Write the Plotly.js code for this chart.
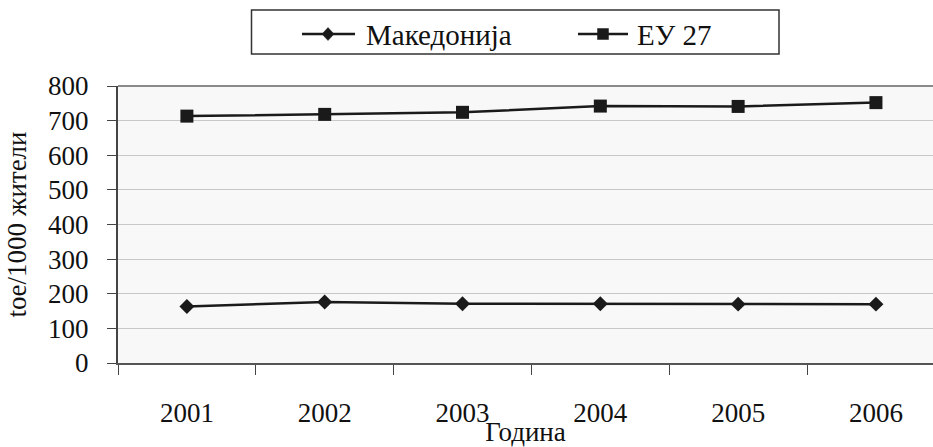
<!DOCTYPE html>
<html>
<head>
<meta charset="utf-8">
<script src="https://cdn.plot.ly/plotly-3.0.1.min.js"></script>
<style>body{margin:0}</style>
</head>
<body>
<div id="chart"></div>
<script>
var years = [2001, 2002, 2003, 2004, 2005, 2006];
var yearLabels = ['2001', '2002', '2003', '2004', '2005', '2006'];
var yearBoundaries = [2000.5, 2001.5, 2002.5, 2003.5, 2004.5, 2005.5];
var macedonia = [163, 176, 171, 171, 170, 170];
var eu27 = [713, 718, 724, 742, 741, 752];
var seriesNames = ['Македонија', 'ЕУ 27'];
var yTitle = 'toe/1000 жители';
var xTitle = 'Година';

var traces = [
  {
    x: years, y: macedonia, name: seriesNames[0], type: 'scatter', mode: 'lines+markers',
    line: {color: '#1a1a1a', width: 2.5},
    marker: {symbol: 'diamond', size: 11.5, color: '#1a1a1a'}
  },
  {
    x: years, y: eu27, name: seriesNames[1], type: 'scatter', mode: 'lines+markers',
    line: {color: '#1a1a1a', width: 2.5},
    marker: {symbol: 'square', size: 13, color: '#1a1a1a'}
  }
];

var L = 118, T = 86, B = 363, W = 933, H = 447;
var pw = W - L, ph = B - T;
function px2x(p){ return (p - L) / pw; }
function py2y(p){ return (B - p) / ph; }
function pt(x, y){ return px2x(x) + ',' + py2y(y); }

// legend drawn as annotations + decorative shapes (keeps serif font)
var legendRowY = 34;
var legendItems = [
  {lineX0: 302, lineX1: 355, markX: 328, textX: 364, symbol: 'diamond'},
  {lineX0: 578, lineX1: 628, markX: 603, textX: 635, symbol: 'square'}
];

var shapes = [
  {type: 'line', xref: 'paper', yref: 'paper', x0: 0, x1: 1, y0: 1, y1: 1,
   line: {color: '#8a8a8a', width: 2}},
  {type: 'rect', xref: 'paper', yref: 'paper',
   x0: px2x(251.5), x1: px2x(779), y0: py2y(54), y1: py2y(10),
   line: {color: '#333333', width: 1.5}, layer: 'above'}
];
var annotations = [];
legendItems.forEach(function(it, i){
  shapes.push({type: 'line', xref: 'paper', yref: 'paper',
    x0: px2x(it.lineX0), x1: px2x(it.lineX1), y0: py2y(legendRowY), y1: py2y(legendRowY),
    line: {color: '#1a1a1a', width: 2.5}, layer: 'above'});
  var m = it.markX, c = legendRowY, path;
  if (it.symbol === 'diamond') {
    path = 'M' + pt(m - 6, c) + ' L' + pt(m, c - 6.5) + ' L' + pt(m + 6, c) + ' L' + pt(m, c + 6.5) + ' Z';
  } else {
    path = 'M' + pt(m - 5.5, c - 5.5) + ' L' + pt(m + 5.5, c - 5.5) + ' L' + pt(m + 5.5, c + 5.5) + ' L' + pt(m - 5.5, c + 5.5) + ' Z';
  }
  shapes.push({type: 'path', xref: 'paper', yref: 'paper', path: path,
    fillcolor: '#1a1a1a', line: {color: '#1a1a1a', width: 0.5}, layer: 'above'});
  annotations.push({xref: 'paper', yref: 'paper', x: px2x(it.textX), y: py2y(legendRowY + 1),
    xanchor: 'left', yanchor: 'middle', showarrow: false, text: seriesNames[i],
    font: {family: 'Liberation Serif', size: 29, color: '#111111'}});
});

var layout = {
  width: 933, height: 447,
  margin: {l: 118, r: 0, t: 86, b: 84},
  paper_bgcolor: '#ffffff',
  plot_bgcolor: '#f8f8f8',
  font: {family: 'Liberation Serif', size: 27, color: '#111111'},
  showlegend: false,
  xaxis: {
    range: [2000.5, 2006.414],
    tickmode: 'array', tickvals: years, ticktext: yearLabels,
    ticks: '',
    minor: {tickmode: 'array', tickvals: yearBoundaries, ticks: 'outside', ticklen: 10, tickwidth: 1, tickcolor: '#444444', showgrid: false},
    showline: true, linecolor: '#555555', linewidth: 2,
    showgrid: false, zeroline: false,
    tickfont: {family: 'Liberation Serif', size: 27, color: '#111111'},
    ticklabelstandoff: 25,
    title: {text: xTitle, font: {family: 'Liberation Serif', size: 27, color: '#111111'}, standoff: 8}
  },
  yaxis: {
    range: [0, 800], dtick: 100, tick0: 0,
    ticks: 'outside', ticklen: 9, tickwidth: 1, tickcolor: '#444444',
    showline: true, linecolor: '#444444', linewidth: 2,
    showgrid: true, gridcolor: '#c8c8c8', gridwidth: 1,
    zeroline: false,
    tickfont: {family: 'Liberation Serif', size: 27, color: '#111111'},
    ticklabelstandoff: 13,
    title: {text: yTitle, font: {family: 'Liberation Serif', size: 27, color: '#111111'}, standoff: 14}
  },
  shapes: shapes,
  annotations: annotations
};

Plotly.newPlot('chart', traces, layout, {staticPlot: true});
</script>
</body>
</html>
